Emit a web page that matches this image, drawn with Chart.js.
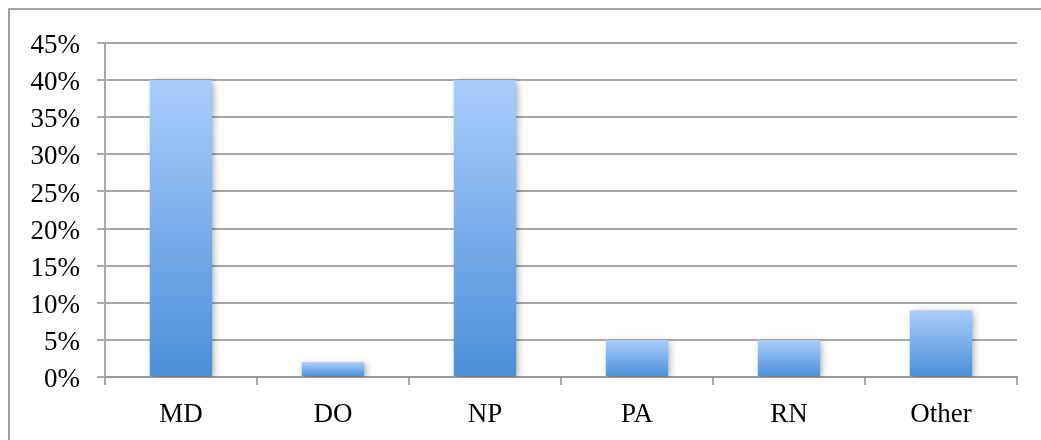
<!DOCTYPE html>
<html>
<head>
<meta charset="utf-8">
<script src="https://cdn.jsdelivr.net/npm/chart.js@4/dist/chart.umd.min.js"></script>
<style>
  html, body { margin: 0; padding: 0; background: #fff; }
  #wrap { width: 1041px; height: 440px; position: relative; }
</style>
</head>
<body>
<div id="wrap"><canvas id="c" width="1041" height="440"></canvas></div>
<script>
// Share of respondents by credential
const categories = ['MD', 'DO', 'NP', 'PA', 'RN', 'Other'];
const shares = [0.40, 0.02, 0.40, 0.05, 0.05, 0.09];
const yMax = 0.45;
const yStep = 0.05;

const FONT = '"Liberation Serif", "DejaVu Serif", serif';
const GRID = '#a8a8a8';

// Per-bar vertical gradient: light at the top, deeper blue at the base
function barGradient(ctx) {
  const chart = ctx.chart;
  const area = chart.chartArea;
  if (!area || ctx.type !== 'data') return '#7fb0ea';
  const y = chart.scales.y;
  const top = y.getPixelForValue(ctx.raw);
  const bottom = y.getPixelForValue(0);
  const g = chart.ctx.createLinearGradient(0, top, 0, bottom);
  g.addColorStop(0, '#a9cdfc');
  g.addColorStop(1, '#4a8fd9');
  return g;
}

// Frame round the chart and a soft drop shadow under the bars
const framePlugin = {
  id: 'frame',
  beforeDraw(chart) {
    const c = chart.ctx;
    c.save();
    c.fillStyle = '#fff';
    c.fillRect(0, 0, chart.width, chart.height);
    c.strokeStyle = '#a0a0a0';
    c.lineWidth = 2;
    c.strokeRect(9, 9, chart.width + 20, chart.height + 20);
    c.restore();
  },
  beforeDatasetsDraw(chart) {
    const c = chart.ctx;
    c.save();
    c.shadowColor = 'rgba(0,0,0,0.35)';
    c.shadowBlur = 7;
    c.shadowOffsetX = 2;
    c.shadowOffsetY = 2;
  },
  afterDatasetsDraw(chart) {
    chart.ctx.restore();
  }
};

new Chart(document.getElementById('c'), {
  type: 'bar',
  data: {
    labels: categories,
    datasets: [{
      data: shares,
      backgroundColor: barGradient,
      borderWidth: 0,
      barPercentage: 0.41,
      categoryPercentage: 1.0
    }]
  },
  options: {
    responsive: false,
    animation: false,
    devicePixelRatio: 1,
    layout: { padding: { left: 0, top: 43, right: 24, bottom: 0 } },
    plugins: { legend: { display: false }, tooltip: { enabled: false } },
    scales: {
      x: {
        afterFit(s) { s.height = 63; },
        grid: {
          offset: true,
          drawOnChartArea: false,
          drawTicks: true,
          tickLength: 8,
          color: GRID,
          lineWidth: 2
        },
        border: { display: true, color: '#9a9a9a', width: 2 },
        ticks: {
          color: '#000',
          padding: 14,
          font: { family: FONT, size: 27 }
        }
      },
      y: {
        min: 0,
        max: yMax,
        afterFit(s) { s.width = 105; },
        grid: {
          color: GRID,
          lineWidth: 2,
          tickLength: 8
        },
        border: { display: true, color: GRID, width: 2 },
        ticks: {
          stepSize: yStep,
          color: '#000',
          padding: 17,
          labelOffset: 3,
          font: { family: FONT, size: 27 },
          callback: v => Math.round(v * 100) + '%'
        }
      }
    }
  },
  plugins: [framePlugin]
});
</script>
</body>
</html>
